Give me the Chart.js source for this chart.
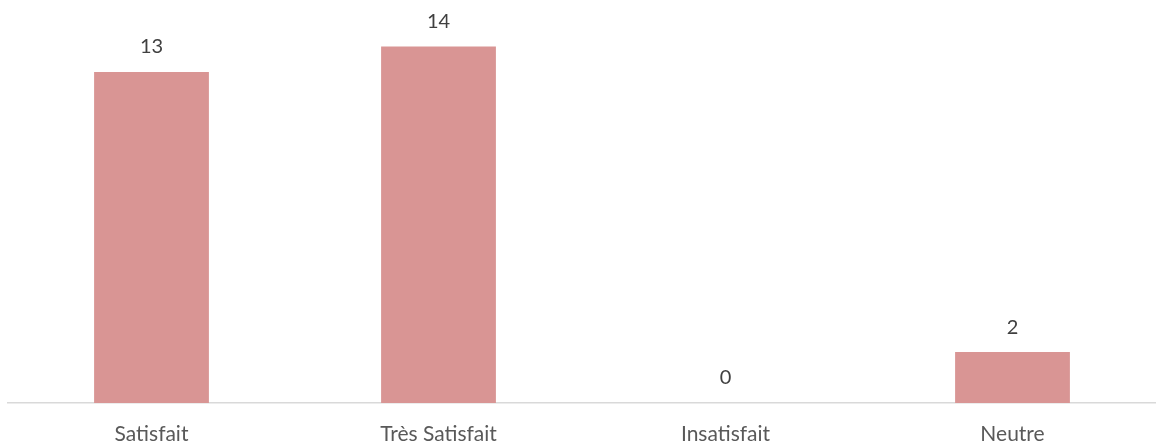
<!DOCTYPE html>
<html>
<head>
<meta charset="utf-8">
<script src="https://cdn.jsdelivr.net/npm/chart.js@4"></script>
<style>
html,body{margin:0;padding:0;background:#fff;}
#wrap{width:1156px;height:448px;}
</style>
</head>
<body>
<div id="wrap"><canvas id="c" width="1156" height="448"></canvas></div>
<script>
const categories = ["Satisfait", "Très Satisfait", "Insatisfait", "Neutre"];
const values = [13, 14, 0, 2];

const labelPlugin = {
  id: 'valueLabels',
  afterDatasetsDraw(chart) {
    const ctx = chart.ctx;
    const meta = chart.getDatasetMeta(0);
    ctx.save();
    ctx.font = '20px Lato, "Open Sans", sans-serif';
    ctx.fillStyle = '#404040';
    ctx.textAlign = 'center';
    ctx.textBaseline = 'middle';
    meta.data.forEach((bar, i) => {
      ctx.fillText(String(values[i]), bar.x, bar.y - 25);
    });
    ctx.restore();
  }
};

new Chart(document.getElementById('c'), {
  type: 'bar',
  data: {
    labels: categories,
    datasets: [{
      data: values,
      backgroundColor: '#D99594',
      borderWidth: 0,
      categoryPercentage: 1,
      barPercentage: 0.4
    }]
  },
  options: {
    responsive: false,
    animation: false,
    devicePixelRatio: 1,
    layout: { padding: { left: 8, right: 0, top: 21, bottom: 0 } },
    plugins: { legend: { display: false }, tooltip: { enabled: false } },
    scales: {
      x: {
        grid: { display: false, drawTicks: false },
        border: { display: true, color: '#D9D9D9', width: 1.5 },
        ticks: { color: '#595959', font: { family: 'Lato, "Open Sans", sans-serif', size: 21 }, padding: 19, maxRotation: 0 },
        afterFit(scale) { scale.height = 45; }
      },
      y: {
        display: false,
        min: 0,
        max: 15
      }
    }
  },
  plugins: [labelPlugin]
});
</script>
</body>
</html>
